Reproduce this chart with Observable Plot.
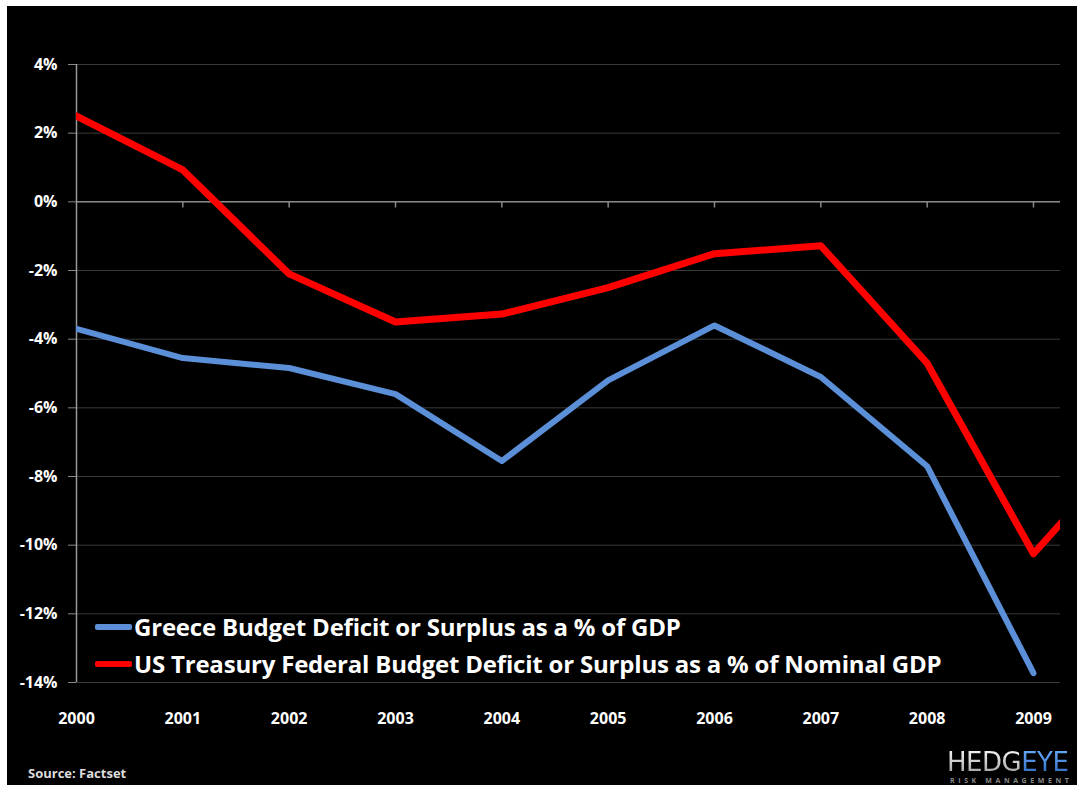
<!DOCTYPE html>
<html><head><meta charset="utf-8">
<script src="https://cdn.jsdelivr.net/npm/d3@7"></script>
<script src="https://cdn.jsdelivr.net/npm/@observablehq/plot@0.6"></script>
<style>
html,body{margin:0;padding:0;background:#fff;overflow:hidden;width:1077px;height:785px}
#wrap{position:absolute;left:7px;top:6px;width:1070px;height:779px;background:#000;overflow:hidden;font-family:"Open Sans",sans-serif;color:#fff}
#chart{position:absolute;left:0;top:0}
#legend{position:absolute;left:88px;top:602px;font-weight:700;font-size:24px;line-height:37px;letter-spacing:-0.2px}
#legend .row{display:flex;align-items:center;white-space:nowrap}
#legend .sw{width:37px;height:6px;margin-right:2px;border-radius:2px}
#source{position:absolute;left:21px;top:758px;font-size:13px;font-weight:700;color:#ddd}
#logoBig{position:absolute;left:940px;top:741px;white-space:nowrap;font-family:"DejaVu Sans",sans-serif;font-size:26px;letter-spacing:-0.5px;line-height:30px}
#logoBig .hedg{background:linear-gradient(#fff,#9a9a9a);-webkit-background-clip:text;color:transparent}
#logoBig .eye{background:linear-gradient(#6fb0ff,#2a66c0);-webkit-background-clip:text;color:transparent}
#logoSmall{position:absolute;left:943px;top:771px;font-size:7px;letter-spacing:3.6px;color:#888;line-height:8px;font-weight:700;white-space:nowrap}
</style></head><body>
<div id="wrap">
  <div id="chart"></div>
  <div id="legend"></div>
  <div id="source">Source: Factset</div>
  <div id="logoBig"><span class="hedg">HEDG</span><span class="eye">EYE</span></div>
  <div id="logoSmall">RISK MANAGEMENT</div>
</div>
<script>
const years = [2000, 2001, 2002, 2003, 2004, 2005, 2006, 2007, 2008, 2009, 2010];
const greece = [-3.7, -4.55, -4.84, -5.6, -7.55, -5.2, -3.6, -5.1, -7.7, -13.73];
const us = [2.5, 0.93, -2.1, -3.5, -3.27, -2.5, -1.51, -1.28, -4.7, -10.25, -6.8];
const yTicks = [4, 2, 0, -2, -4, -6, -8, -10, -12, -14];
const xTicks = [2000, 2001, 2002, 2003, 2004, 2005, 2006, 2007, 2008, 2009];
const seriesNames = ["Greece Budget Deficit or Surplus as a % of GDP", "US Treasury Federal Budget Deficit or Surplus as a % of Nominal GDP"];
const seriesColors = ["#5b90d8", "#ff0000"];

const greeceData = greece.map((v, i) => ({year: years[i], v}));
const usData = us.map((v, i) => ({year: years[i], v}));

const chart = Plot.plot({
  width: 1070,
  height: 726,
  marginLeft: 69,
  marginRight: 17,
  marginTop: 58,
  marginBottom: 50,
  style: {background: "transparent", color: "#fff", fontFamily: "'Open Sans', sans-serif", overflow: "visible"},
  x: {domain: [2000, 2009.254]},
  y: {domain: [-14, 4]},
  marks: [
    Plot.gridY(yTicks, {stroke: "#3a3a3a", strokeOpacity: 1}),
    Plot.axisY(yTicks, {tickFormat: d => d + "%", tickSize: 8, tickPadding: 11, stroke: "#888", fill: "#fff", fontSize: 16, fontWeight: 700, label: null}),
    Plot.axisX(xTicks, {tickFormat: d => String(d), tickSize: 0, tickPadding: 30, fill: "#fff", fontSize: 16, fontWeight: 700, label: null}),
    Plot.ruleY([0], {stroke: "#888", strokeWidth: 1.5}),
    Plot.ruleX(xTicks.slice(1), {y1: 0, y2: -0.18, stroke: "#888", strokeWidth: 1.5}),
    Plot.ruleX([2000], {stroke: "#999", strokeWidth: 1.5}),
    Plot.line(greeceData, {x: "year", y: "v", stroke: seriesColors[0], strokeWidth: 6, clip: true}),
    Plot.line(usData, {x: "year", y: "v", stroke: seriesColors[1], strokeWidth: 7, clip: true})
  ]
});
document.getElementById("chart").appendChild(chart);

const legend = document.getElementById("legend");
seriesNames.forEach((name, i) => {
  const row = document.createElement("div");
  row.className = "row";
  const sw = document.createElement("span");
  sw.className = "sw";
  sw.style.background = seriesColors[i];
  const t = document.createElement("span");
  t.textContent = name;
  row.appendChild(sw); row.appendChild(t);
  legend.appendChild(row);
});
</script>
</body></html>
